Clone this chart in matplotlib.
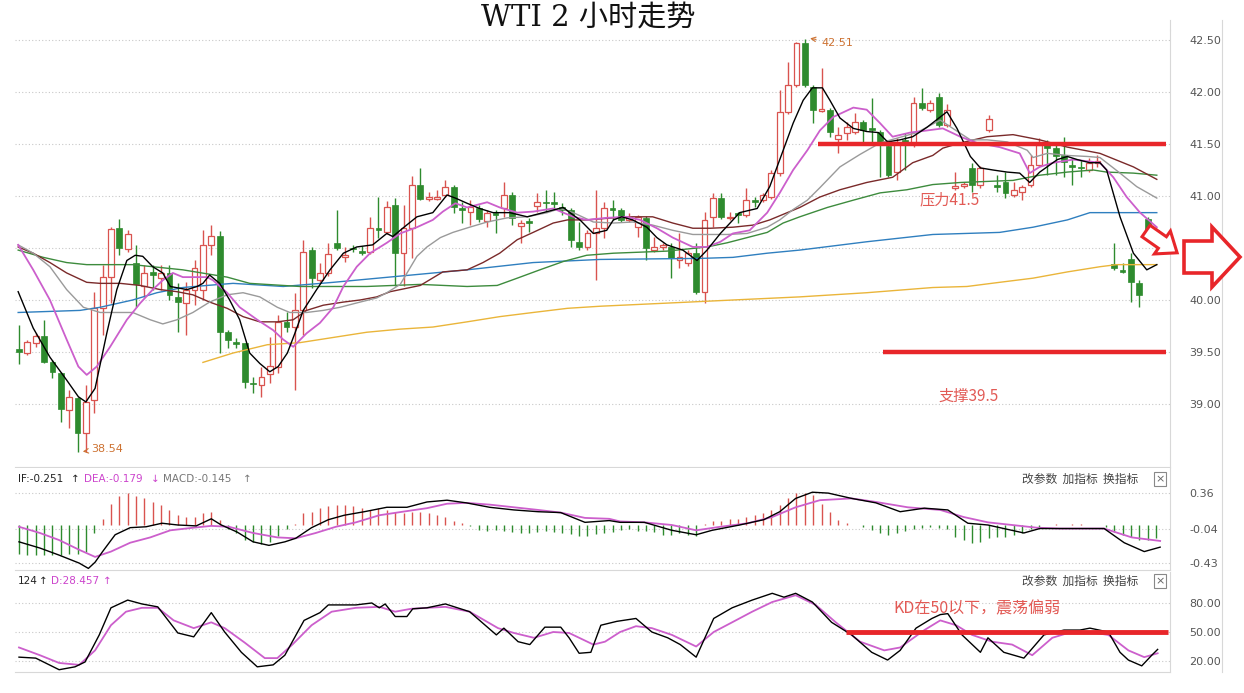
import numpy as np
import matplotlib
matplotlib.use("Agg")
import matplotlib.pyplot as plt
from matplotlib.patches import Polygon

W, H = 1244, 693
nan = np.nan

# ---- 2 hour candles (price) ----
opens = [39.53, 39.49, 39.59, 39.65, 39.40, 39.30, 38.94, 39.06, 38.72, 39.04,
         39.92, 40.22, 40.69, 40.49, 40.36, 40.13, 40.27, 40.21, 40.26, 40.03,
         39.97, 40.10, 40.10, 40.53, 40.62, 39.69, 39.60, 39.59, 39.20, 39.18,
         39.29, 39.36, 39.79, 39.74, 39.90, 40.48, 40.19, 40.26, 40.55, 40.41,
         40.50, 40.47, 40.46, 40.69, 40.65, 40.91, 40.45, 40.69, 41.11, 40.97,
         40.97, 41.01, 41.09, 40.88, 40.85, 40.88, 40.76, 40.84, 40.88, 41.01,
         40.71, 40.76, 40.90, 40.94, 40.94, 40.89, 40.87, 40.56, 40.51, 40.64,
         40.69, 40.88, 40.87, 40.77, 40.70, 40.79, 40.48, 40.51, 40.51, 40.38,
         40.36, 40.45, 40.08, 40.80, 40.98, 40.79, 40.83, 40.82, 40.96, 40.96,
         40.99, 41.22, 41.81, 42.07, 42.47, 42.05, 41.82, 41.83, 41.55, 41.61,
         41.62, 41.71, 41.65, 41.62, 41.48, 41.23, 41.54, 41.51, 41.89, 41.83,
         41.95, 41.68, 41.08, 41.10, 41.27, 41.11, 41.63, 41.11, 41.13, 41.01,
         41.04, 41.11, 41.30, 41.51, 41.46, 41.39, 41.30, 41.28, 41.25, 41.32,
         nan, 40.35, 40.29, 40.39, 40.16, 40.78, 40.67]
highs = [39.76, 39.62, 39.68, 39.81, 39.42, 39.31, 39.13, 39.07, 39.18, 40.08,
         40.34, 40.70, 40.78, 40.67, 40.53, 40.34, 40.34, 40.34, 40.34, 40.16,
         40.17, 40.38, 40.67, 40.72, 40.66, 39.71, 39.63, 39.59, 39.26, 39.36,
         39.64, 39.86, 39.88, 40.07, 40.58, 40.51, 40.36, 40.55, 40.87, 40.51,
         40.53, 40.52, 40.80, 40.99, 40.95, 40.98, 40.91, 41.19, 41.27, 41.04,
         41.06, 41.15, 41.11, 40.94, 40.96, 40.91, 40.87, 40.87, 41.13, 41.04,
         40.77, 40.79, 41.03, 41.06, 41.04, 40.93, 40.88, 40.75, 40.67, 41.06,
         40.94, 40.96, 40.88, 40.84, 40.82, 40.81, 40.61, 40.55, 40.55, 40.64,
         40.48, 40.55, 40.85, 41.03, 41.03, 40.85, 40.85, 41.08, 40.99, 41.03,
         41.25, 42.02, 42.29, 42.48, 42.51, 42.07, 42.23, 41.85, 41.66, 41.71,
         41.80, 41.73, 41.94, 41.63, 41.50, 41.56, 41.61, 41.95, 42.04, 41.92,
         41.99, 41.88, 41.23, 41.13, 41.32, 41.29, 41.78, 41.20, 41.23, 41.13,
         41.11, 41.39, 41.56, 41.54, 41.52, 41.57, 41.37, 41.35, 41.37, 41.39,
         nan, 40.55, 40.36, 40.45, 40.19, 40.80, 40.69]
lows = [39.38, 39.47, 39.55, 39.39, 39.25, 38.83, 38.77, 38.54, 38.54, 38.91,
        39.66, 39.97, 40.43, 40.46, 39.93, 40.03, 40.10, 40.10, 40.00, 39.69,
        39.66, 39.95, 40.00, 40.43, 39.49, 39.54, 39.54, 39.15, 39.11, 39.07,
        39.20, 39.30, 39.69, 39.13, 39.66, 40.12, 40.17, 40.23, 40.48, 40.37,
        40.46, 40.43, 40.44, 40.60, 40.63, 40.13, 40.13, 40.40, 40.96, 40.95,
        40.96, 40.99, 40.84, 40.74, 40.72, 40.75, 40.70, 40.64, 40.80, 40.72,
        40.55, 40.65, 40.85, 40.85, 40.87, 40.82, 40.51, 40.48, 40.48, 40.19,
        40.60, 40.77, 40.75, 40.75, 40.61, 40.38, 40.46, 40.48, 40.21, 40.31,
        40.33, 40.06, 39.97, 40.70, 40.78, 40.77, 40.74, 40.80, 40.89, 40.94,
        40.97, 41.19, 41.79, 42.05, 42.05, 41.70, 41.81, 41.57, 41.41, 41.54,
        41.60, 41.51, 41.51, 41.18, 41.18, 41.15, 41.25, 41.47, 41.83, 41.81,
        41.66, 41.66, 41.06, 41.08, 41.04, 41.08, 41.62, 41.04, 40.98, 40.99,
        40.96, 41.09, 41.28, 41.20, 41.20, 41.18, 41.11, 41.18, 41.23, 41.28,
        nan, 40.29, 40.26, 39.98, 39.93, 40.65, 40.56]
closes = [39.50, 39.60, 39.65, 39.40, 39.31, 38.95, 39.07, 38.72, 39.02, 39.92,
          40.22, 40.68, 40.50, 40.63, 40.15, 40.26, 40.24, 40.26, 40.05, 39.98,
          40.10, 40.31, 40.53, 40.62, 39.69, 39.62, 39.58, 39.21, 39.19, 39.26,
          39.37, 39.79, 39.74, 39.90, 40.46, 40.21, 40.26, 40.44, 40.50, 40.43,
          40.49, 40.45, 40.69, 40.67, 40.89, 40.45, 40.69, 41.11, 40.97, 40.99,
          40.99, 41.09, 40.89, 40.87, 40.89, 40.78, 40.84, 40.82, 41.01, 40.79,
          40.74, 40.74, 40.94, 40.93, 40.92, 40.87, 40.58, 40.51, 40.64, 40.69,
          40.88, 40.87, 40.77, 40.80, 40.80, 40.50, 40.51, 40.53, 40.40, 40.41,
          40.45, 40.08, 40.77, 40.98, 40.80, 40.80, 40.82, 40.96, 40.94, 41.01,
          41.22, 41.81, 42.07, 42.47, 42.07, 41.83, 41.83, 41.62, 41.59, 41.66,
          41.71, 41.63, 41.63, 41.51, 41.20, 41.51, 41.52, 41.89, 41.85, 41.89,
          41.68, 41.83, 41.10, 41.11, 41.11, 41.27, 41.74, 41.09, 41.03, 41.06,
          41.09, 41.30, 41.49, 41.46, 41.38, 41.33, 41.28, 41.27, 41.32, 41.33,
          nan, 40.31, 40.27, 40.17, 40.05, 40.67, 40.62]

# ---- moving averages (candle index, price) ----
ma5_x = [-0.1, 1.7, 3.7, 5.7, 7.1, 8.0, 9.1, 10.5, 11.7, 12.9, 13.9, 14.8, 16.0, 17.2, 18.1, 20.1, 21.3, 22.0, 22.8, 24.0,
         25.2, 26.4, 27.6, 28.8, 30.0, 31.0, 32.1, 33.0, 34.0, 35.6, 37.2, 38.8, 40.4, 42.3, 44.0, 44.7, 45.9, 47.6, 49.5, 51.2,
         52.2, 53.6, 55.1, 56.7, 58.7, 60.8, 62.7, 65.1, 65.9, 67.1, 68.7, 70.3, 71.1, 72.1, 73.4, 75.1, 76.3, 77.5, 79.4, 81.1,
         82.3, 83.9, 85.4, 86.2, 88.3, 89.8, 91.0, 92.6, 93.8, 94.9, 96.1, 97.0, 98.2, 99.8, 101.4, 102.8, 103.9, 105.4, 106.9, 108.6,
         110.2, 111.0, 112.2, 113.8, 115.0, 116.5, 118.2, 119.7, 120.9, 122.1, 124.2, 125.4, 126.6, 128.1, 129.3, 130.1, 131.7, 133.3, 134.9, 136.1]
ma5_y = [40.08, 39.73, 39.45, 39.23, 39.07, 39.02, 39.15, 39.68, 40.10, 40.38, 40.43, 40.42, 40.32, 40.26, 40.13, 40.10, 40.13, 40.16, 40.24, 40.16,
         40.00, 39.81, 39.49, 39.39, 39.31, 39.36, 39.49, 39.68, 39.90, 40.10, 40.29, 40.45, 40.51, 40.53, 40.64, 40.61, 40.69, 40.80, 40.84, 41.01,
         40.98, 40.93, 40.88, 40.84, 40.84, 40.80, 40.84, 40.89, 40.84, 40.77, 40.64, 40.67, 40.77, 40.80, 40.77, 40.70, 40.60, 40.53, 40.48, 40.38,
         40.48, 40.64, 40.77, 40.84, 40.88, 41.09, 41.35, 41.70, 41.92, 42.04, 42.04, 41.92, 41.75, 41.65, 41.62, 41.61, 41.52, 41.54, 41.57, 41.66,
         41.76, 41.81, 41.65, 41.38, 41.27, 41.25, 41.23, 41.22, 41.13, 41.23, 41.35, 41.38, 41.35, 41.32, 41.32, 41.25, 40.80, 40.45, 40.29, 40.34]

ma10_x = [-0.1, 1.7, 3.7, 5.7, 7.1, 8.1, 9.3, 10.9, 12.9, 14.5, 16.0, 17.2, 18.4, 19.6, 21.3, 22.5, 23.2, 24.9, 26.4, 28.5,
          30.4, 31.6, 32.8, 34.4, 36.0, 37.6, 38.8, 40.4, 42.0, 44.0, 45.6, 47.6, 49.5, 50.7, 52.2, 53.6, 56.0, 57.5, 59.6, 61.5,
          63.9, 66.3, 67.9, 70.3, 72.7, 74.3, 76.3, 78.2, 80.6, 82.3, 83.9, 85.4, 87.4, 89.5, 91.0, 92.6, 94.3, 95.8, 97.4, 99.8,
          101.4, 103.0, 104.5, 106.6, 108.6, 110.5, 112.6, 114.6, 117.3, 119.7, 120.9, 122.1, 123.7, 126.1, 129.3, 130.9, 132.5, 134.1, 136.1]
ma10_y = [40.53, 40.29, 40.00, 39.62, 39.36, 39.28, 39.36, 39.55, 39.81, 39.97, 40.10, 40.19, 40.26, 40.22, 40.22, 40.22, 40.19, 40.07, 39.93, 39.81,
          39.71, 39.62, 39.55, 39.68, 39.78, 39.93, 40.13, 40.32, 40.45, 40.55, 40.64, 40.70, 40.77, 40.85, 40.93, 40.89, 40.94, 40.89, 40.84, 40.85,
          40.88, 40.80, 40.77, 40.79, 40.80, 40.77, 40.69, 40.60, 40.51, 40.51, 40.56, 40.64, 40.67, 40.84, 41.03, 41.25, 41.44, 41.63, 41.76, 41.85,
          41.83, 41.70, 41.57, 41.61, 41.63, 41.65, 41.57, 41.51, 41.47, 41.41, 41.22, 41.28, 41.32, 41.35, 41.32, 41.18, 40.99, 40.84, 40.70]

ma20_x = [-0.1, 1.7, 3.7, 5.7, 7.7, 9.7, 11.7, 13.6, 15.7, 17.2, 18.9, 20.8, 22.8, 24.9, 26.8, 28.8, 30.9, 32.4, 34.4, 36.4,
          38.4, 40.8, 42.8, 44.0, 45.6, 47.6, 48.8, 50.4, 51.9, 53.9, 56.0, 58.4, 60.8, 63.2, 64.7, 66.3, 68.7, 71.1, 73.4, 75.8,
          78.2, 80.6, 82.3, 84.7, 87.1, 89.5, 91.0, 92.6, 94.3, 95.8, 98.2, 100.6, 103.0, 107.4, 110.2, 111.7, 113.8, 115.8, 118.2, 120.6,
          121.3, 123.0, 125.4, 127.8, 129.3, 131.7, 133.7, 136.1]
ma20_y = [40.53, 40.45, 40.32, 40.10, 39.93, 39.88, 39.88, 39.88, 39.81, 39.77, 39.81, 39.88, 39.98, 40.05, 40.07, 40.03, 39.93, 39.88, 39.88, 39.90,
          39.93, 39.98, 40.02, 40.07, 40.15, 40.42, 40.51, 40.60, 40.65, 40.70, 40.75, 40.79, 40.80, 40.84, 40.88, 40.84, 40.75, 40.74, 40.75, 40.72,
          40.67, 40.63, 40.63, 40.63, 40.64, 40.70, 40.77, 40.87, 40.96, 41.08, 41.28, 41.40, 41.51, 41.61, 41.73, 41.65, 41.54, 41.54, 41.52, 41.44,
          41.37, 41.41, 41.39, 41.38, 41.37, 41.22, 41.09, 40.98]

ma30_x = [-0.1, 1.7, 3.7, 5.7, 8.1, 9.7, 12.1, 14.5, 16.9, 18.9, 20.8, 22.8, 24.9, 26.8, 28.8, 30.9, 32.8, 34.4, 36.4, 38.8,
          40.8, 42.8, 44.4, 45.6, 48.0, 50.7, 53.6, 55.5, 57.5, 59.6, 61.5, 63.9, 65.6, 67.9, 71.1, 73.4, 75.8, 78.2, 80.6, 82.7,
          85.4, 87.8, 89.8, 91.9, 93.4, 95.8, 98.2, 101.4, 104.5, 106.9, 109.3, 110.5, 112.6, 115.8, 118.9, 122.1, 125.4, 129.3, 133.3, 136.1]
ma30_y = [40.51, 40.45, 40.36, 40.26, 40.17, 40.16, 40.16, 40.14, 40.10, 40.08, 40.05, 39.98, 39.92, 39.84, 39.79, 39.79, 39.81, 39.90, 39.95, 39.98,
          40.00, 40.03, 40.08, 40.10, 40.14, 40.27, 40.29, 40.36, 40.45, 40.58, 40.65, 40.74, 40.77, 40.77, 40.79, 40.80, 40.80, 40.74, 40.69, 40.69,
          40.70, 40.72, 40.77, 40.84, 40.89, 40.99, 41.06, 41.13, 41.18, 41.32, 41.39, 41.46, 41.51, 41.57, 41.59, 41.54, 41.47, 41.41, 41.28, 41.16]

ma60_x = [-0.1, 2.9, 5.7, 8.1, 13.6, 19.6, 24.9, 27.6, 33.6, 41.6, 48.0, 53.6, 57.2, 59.6, 62.3, 65.1, 67.9, 71.1, 77.5, 82.3,
          84.7, 87.1, 89.5, 91.4, 93.4, 96.7, 99.8, 103.0, 106.2, 109.3, 112.6, 118.9, 122.1, 125.4, 128.5, 130.1, 133.3, 136.1]
ma60_y = [40.48, 40.41, 40.36, 40.34, 40.34, 40.29, 40.22, 40.16, 40.13, 40.13, 40.15, 40.13, 40.14, 40.21, 40.29, 40.37, 40.43, 40.45, 40.47, 40.51,
          40.55, 40.60, 40.65, 40.74, 40.80, 40.89, 40.96, 41.03, 41.06, 41.11, 41.13, 41.15, 41.20, 41.23, 41.25, 41.23, 41.22, 41.20]

ma120_x = [-0.1, 7.3, 9.7, 13.6, 16.5, 19.6, 22.5, 25.6, 31.6, 37.6, 45.6, 53.6, 61.5, 69.5, 81.5, 85.4, 89.5, 93.4, 101.4, 109.3,
           117.3, 121.3, 125.4, 128.1, 136.1]
ma120_y = [39.88, 39.90, 39.93, 40.00, 40.07, 40.12, 40.14, 40.16, 40.13, 40.17, 40.23, 40.29, 40.36, 40.39, 40.40, 40.41, 40.45, 40.48, 40.56, 40.63,
           40.65, 40.70, 40.77, 40.84, 40.84]

ma250_x = [22.0, 25.6, 29.7, 33.6, 37.6, 41.6, 45.6, 49.5, 53.6, 57.5, 61.5, 65.6, 69.5, 77.5, 85.4, 93.4, 101.4, 109.3, 113.4, 117.3,
           121.3, 125.4, 129.3, 131.3, 136.1]
ma250_y = [39.40, 39.49, 39.57, 39.59, 39.64, 39.69, 39.72, 39.74, 39.79, 39.84, 39.88, 39.92, 39.94, 39.97, 40.00, 40.03, 40.07, 40.12, 40.13, 40.17,
           40.21, 40.27, 40.32, 40.34, 40.34]

# ---- MACD ----
dif_x = [0.0, 2.5, 4.8, 7.2, 8.3, 9.1, 10.0, 11.5, 13.3, 15.2, 17.1, 19.0, 21.2, 23.0, 24.2, 26.1, 28.0, 29.9, 31.8, 33.1,
         35.0, 37.0, 38.9, 41.3, 44.0, 46.4, 48.8, 51.2, 53.5, 56.3, 59.2, 62.1, 64.8, 67.7, 70.6, 71.9, 74.8, 78.1, 81.0, 82.9,
         86.2, 89.1, 91.0, 92.9, 94.9, 96.8, 99.6, 102.5, 105.4, 108.3, 111.1, 113.5, 115.9, 117.8, 120.2, 122.1, 126.0, 129.8, 132.2, 134.6, 136.5]
dif_y = [-0.19, -0.26, -0.34, -0.43, -0.49, -0.42, -0.30, -0.11, -0.03, -0.02, 0.02, 0.0, -0.01, 0.07, 0.0, -0.08, -0.19, -0.23, -0.19, -0.15,
         -0.03, 0.06, 0.11, 0.15, 0.20, 0.20, 0.26, 0.28, 0.25, 0.20, 0.17, 0.15, 0.14, 0.03, 0.05, 0.03, 0.03, -0.06, -0.11, -0.06,
         0.0, 0.06, 0.15, 0.30, 0.37, 0.36, 0.30, 0.25, 0.15, 0.19, 0.17, 0.02, 0.0, -0.04, -0.09, -0.04, -0.04, -0.04, -0.20, -0.30, -0.25]
dea_x = [0.0, 2.5, 4.8, 7.2, 9.1, 11.0, 13.3, 15.7, 18.1, 20.9, 23.0, 25.1, 28.0, 30.9, 33.1, 35.5, 37.9, 40.3, 43.1, 45.9,
         48.8, 51.2, 53.5, 56.3, 59.2, 62.1, 64.8, 67.7, 70.6, 71.9, 74.8, 78.1, 81.0, 83.9, 87.2, 90.1, 92.9, 95.8, 99.6, 102.5,
         106.3, 110.2, 113.0, 115.9, 118.8, 121.7, 124.5, 129.8, 133.1, 136.5]
dea_y = [-0.02, -0.09, -0.17, -0.28, -0.36, -0.30, -0.20, -0.14, -0.06, -0.03, -0.01, -0.02, -0.09, -0.14, -0.15, -0.09, -0.02, 0.03, 0.11, 0.15,
         0.19, 0.24, 0.25, 0.23, 0.20, 0.17, 0.14, 0.08, 0.07, 0.04, 0.03, 0.0, -0.06, -0.02, 0.02, 0.09, 0.20, 0.28, 0.30, 0.26,
         0.20, 0.17, 0.09, 0.03, 0.0, -0.03, -0.04, -0.04, -0.14, -0.18]
macd_bar = [-0.33, -0.34, -0.34, -0.34, -0.34, -0.34, -0.33, -0.33, -0.31, -0.09,
            0.07, 0.24, 0.33, 0.36, 0.33, 0.30, 0.26, 0.23, 0.17, 0.11,
            0.09, 0.09, 0.13, 0.15, 0.06, -0.04, -0.09, -0.17, -0.19, -0.21,
            -0.19, -0.12, -0.05, 0.01, 0.13, 0.15, 0.19, 0.21, 0.23, 0.23,
            0.21, 0.19, 0.17, 0.19, 0.17, 0.15, 0.13, 0.15, 0.15, 0.13,
            0.11, 0.09, 0.04, 0.02, -0.01, -0.06, -0.07, -0.06, -0.07, -0.08,
            -0.09, -0.09, -0.08, -0.07, -0.08, -0.09, -0.10, -0.12, -0.12, -0.10,
            -0.09, -0.08, -0.06, -0.05, -0.07, -0.07, -0.08, -0.11, -0.11, -0.09,
            -0.11, -0.12, 0.01, 0.04, 0.05, 0.07, 0.07, 0.09, 0.11, 0.13,
            0.17, 0.23, 0.30, 0.36, 0.36, 0.34, 0.24, 0.15, 0.06, 0.02,
            0.0, -0.02, -0.06, -0.09, -0.11, -0.09, -0.07, -0.04, -0.03, -0.02,
            -0.03, -0.05, -0.13, -0.17, -0.20, -0.19, -0.15, -0.13, -0.13, -0.11,
            -0.09, -0.05, -0.03, 0.0, 0.01, 0.0, 0.01, 0.01, 0.0, 0.0,
            -0.02, -0.08, -0.11, -0.14, -0.17, -0.17, -0.145]

# ---- KD ----
k_x = [0.0, 2.0, 4.8, 6.7, 7.9, 9.6, 11.0, 13.0, 14.7, 16.6, 19.0, 20.9, 23.0, 24.6, 26.6, 28.5, 30.4, 31.8, 34.1, 36.0,
       37.0, 40.3, 42.2, 43.1, 43.8, 45.0, 46.4, 47.1, 48.8, 51.0, 53.9, 57.1, 58.0, 59.7, 61.1, 62.9, 64.8, 65.8, 67.0, 68.4,
       69.6, 71.5, 73.8, 75.7, 77.6, 79.1, 81.0, 83.1, 85.3, 87.7, 90.1, 91.5, 92.9, 94.9, 97.2, 99.6, 102.0, 103.9, 105.4, 107.3,
       109.2, 110.2, 111.1, 112.8, 115.0, 115.9, 117.8, 120.2, 122.6, 125.0, 126.9, 128.1, 130.3, 131.7, 132.7, 134.3, 135.5, 136.2]
k_y = [24, 23, 11, 14, 19, 47, 75, 83, 79, 76, 49, 45, 70, 50, 29, 14, 16, 26, 62, 70,
       78, 78, 80, 75, 79, 66, 66, 74, 75, 79, 71, 47, 54, 40, 37, 55, 55, 44, 28, 29,
       57, 61, 64, 50, 44, 37, 24, 64, 75, 83, 90, 86, 90, 81, 60, 47, 29, 21, 31, 54,
       64, 68, 69, 47, 29, 44, 29, 23, 47, 52, 52, 54, 50, 29, 21, 15, 26, 32]
d_x = [0.0, 2.5, 4.8, 7.2, 9.1, 11.0, 12.8, 14.7, 16.6, 18.5, 20.9, 23.0, 24.6, 27.0, 29.4, 30.9, 32.7, 35.0, 37.4, 40.3,
       43.1, 45.0, 46.9, 48.8, 51.0, 53.9, 57.3, 59.2, 61.6, 63.9, 65.8, 68.7, 70.1, 71.9, 73.8, 75.7, 78.1, 81.0, 83.1, 85.3,
       87.7, 90.1, 92.9, 95.3, 97.7, 100.6, 103.5, 105.4, 108.3, 110.2, 112.1, 114.0, 116.4, 118.8, 121.2, 123.6, 125.5, 127.9, 130.3, 132.7,
       134.6, 136.2]
d_y = [34, 26, 18, 16, 31, 57, 71, 75, 75, 62, 54, 60, 54, 39, 23, 23, 37, 57, 71, 75,
       76, 71, 74, 75, 76, 71, 54, 49, 44, 50, 49, 37, 40, 50, 56, 54, 47, 35, 50, 60,
       71, 81, 88, 78, 60, 40, 31, 34, 52, 62, 57, 47, 40, 37, 26, 44, 49, 50, 47, 31,
       24, 28]

price_ticks = [39.0, 39.5, 40.0, 40.5, 41.0, 41.5, 42.0, 42.5]
macd_ticks = [0.36, -0.04, -0.43]
kd_ticks = [20, 50, 80]
resistance = 41.5
support = 39.5
kd_level = 50

RED = '#d9534f'
GREEN = '#2e8b2e'
LINE_RED = '#e8262a'
GRID = '#c8c8c8'
CJK = ['Noto Sans CJK SC', 'DejaVu Sans']


def fx(px):
    return px / W


def fy(py):
    return 1 - py / H


def ix(px):
    # pixel column -> candle index (first candle at x=19, spacing 8.36 px)
    return (px - 19) / 8.36


def style_panel(a, ticks, labels):
    a.set_xlim(ix(15), ix(1170))
    for t in ticks:
        a.axhline(t, color=GRID, lw=0.8, ls=(0, (1, 2)), zorder=0)
    a.yaxis.tick_right()
    a.set_yticks(ticks)
    a.set_yticklabels(labels)
    a.set_xticks([])
    a.tick_params(axis='y', length=0, pad=14, labelsize=8, labelcolor='#555555')
    for s in ['top', 'left']:
        a.spines[s].set_visible(False)
    for s in ['bottom', 'right']:
        a.spines[s].set_color('#d8d8d8')
        a.spines[s].set_linewidth(0.8)


fig = plt.figure(figsize=(W / 100, H / 100), dpi=100)
fig.patch.set_facecolor('white')

# ---------------- main price panel ----------------
ax = fig.add_axes([fx(15), fy(467), fx(1170) - fx(15), fy(30) - fy(467)])
ax.set_ylim(40 - 167 / 104, 40 + 270 / 104)
style_panel(ax, price_ticks, ['%.2f' % t for t in price_ticks])

o = np.array(opens)
h = np.array(highs)
l = np.array(lows)
c = np.array(closes)
idx = np.arange(len(c))
ok = ~np.isnan(c)
up = ok & (c >= o)
dn = ok & (c < o)
bottom = np.minimum(o, c)
height = np.maximum(np.abs(c - o), 0.012)

ax.vlines(idx[up], l[up], h[up], color=RED, lw=1, zorder=2)
ax.vlines(idx[dn], l[dn], h[dn], color=GREEN, lw=1, zorder=2)
ax.bar(idx[up], height[up], bottom=bottom[up], width=0.7, facecolor='white',
       edgecolor=RED, linewidth=0.9, zorder=3)
ax.bar(idx[dn], height[dn], bottom=bottom[dn], width=0.7, facecolor=GREEN,
       edgecolor=GREEN, linewidth=0.5, zorder=3)

ax.plot(ma250_x, ma250_y, color='#eab53a', lw=1, zorder=4)
ax.plot(ma120_x, ma120_y, color='#2f7fbf', lw=1, zorder=4)
ax.plot(ma60_x, ma60_y, color='#3d8b3d', lw=1, zorder=4)
ax.plot(ma30_x, ma30_y, color='#7a2a2a', lw=1, zorder=4)
ax.plot(ma20_x, ma20_y, color='#9a9a9a', lw=1, zorder=4)
ax.plot(ma10_x, ma10_y, color='#cc5fcc', lw=1.3, zorder=4)
ax.plot(ma5_x, ma5_y, color='black', lw=1, zorder=5)

# high / low markers
hi_i = int(np.nanargmax(h))
lo_i = int(np.nanargmin(l))
ax.annotate('%.2f' % h[hi_i], xy=(hi_i + 0.3, h[hi_i] + 0.01), xytext=(hi_i + 2.0, h[hi_i] - 0.04),
            fontsize=8, color='#cd7232', va='center',
            arrowprops=dict(arrowstyle='->', color='#cd7232', lw=0.8))
ax.annotate('%.2f' % l[lo_i], xy=(lo_i + 0.3, l[lo_i]), xytext=(lo_i + 1.6, l[lo_i] + 0.03),
            fontsize=8, color='#cd7232', va='center',
            arrowprops=dict(arrowstyle='->', color='#cd7232', lw=0.8))

# resistance / support
ax.hlines(resistance, ix(818), ix(1166), color=LINE_RED, lw=3.2, zorder=6)
ax.hlines(support, ix(883), ix(1166), color=LINE_RED, lw=3.2, zorder=6)
ax.text(ix(950), 40 + (300 - 200) / 104, '压力41.5', family=CJK, fontsize=11,
        color='#e25a55', ha='center', va='center', zorder=7)
ax.text(ix(969), 40 + (300 - 396) / 104, '支撑39.5', family=CJK, fontsize=11,
        color='#e25a55', ha='center', va='center', zorder=7)

# ---------------- MACD panel ----------------
axm = fig.add_axes([fx(15), fy(570), fx(1170) - fx(15), fy(468) - fy(570)])
axm.set_ylim((525 - 570) / 88.6, (525 - 468) / 88.6)
style_panel(axm, macd_ticks, ['0.36', '-0.04', '-0.43'])
mb = np.array(macd_bar)
bar_cols = [RED if v > 0 else GREEN for v in mb]
axm.vlines(np.arange(len(mb)), 0, mb, colors=bar_cols, lw=1, zorder=2)
axm.plot(dea_x, dea_y, color='#cc5fcc', lw=1.3, zorder=3)
axm.plot(dif_x, dif_y, color='black', lw=1, zorder=4)

# ---------------- KD panel ----------------
axk = fig.add_axes([fx(15), fy(672), fx(1170) - fx(15), fy(572) - fy(672)])
axk.set_ylim(50 - 40 * 1.034, 50 + 60 * 1.034)
style_panel(axk, kd_ticks, ['20.00', '50.00', '80.00'])
axk.plot(d_x, d_y, color='#cc5fcc', lw=1.3, zorder=3)
axk.plot(k_x, k_y, color='black', lw=1, zorder=4)
axk.hlines(kd_level, ix(846), ix(1168), color=LINE_RED, lw=3.5, zorder=5)
axk.text(ix(977), 50 + (632 - 609) * 1.034, 'KD在50以下，震荡偏弱', family=CJK,
         fontsize=11.5, color='#e25a55', ha='center', va='center', zorder=6)

# ---------------- headers ----------------
fig.text(fx(588), fy(18), 'WTI 2 小时走势', family=['DejaVu Serif', 'Noto Sans CJK SC'],
         fontsize=21, ha='center', va='center', color='#111111')

hdr = [(18, 'IF:-0.251', '#222222'), (71, '↑', '#222222'), (84, 'DEA:-0.179', '#cc44cc'),
       (151, '↓', '#cc44cc'), (163, 'MACD:-0.145', '#777777'), (243, '↑', '#777777')]
for x0, s, col in hdr:
    fig.text(fx(x0), fy(479), s, fontsize=7.5, color=col, va='center', family='DejaVu Sans')
hdr2 = [(18, '124', '#222222'), (39, '↑', '#222222'), (51, 'D:28.457', '#cc44cc'), (103, '↑', '#cc44cc')]
for x0, s, col in hdr2:
    fig.text(fx(x0), fy(581), s, fontsize=7.5, color=col, va='center', family='DejaVu Sans')

for yy in (479, 581):
    fig.text(fx(1022), fy(yy), '改参数  加指标  换指标', family=CJK, fontsize=8.5,
             color='#444444', va='center')
    fig.text(fx(1160), fy(yy), '×', fontsize=8, color='#666666', va='center', ha='center',
             bbox=dict(boxstyle='square,pad=0.15', fc='white', ec='#888888', lw=0.8))

# outer right frame line
fig.add_artist(plt.Line2D([fx(1222), fx(1222)], [fy(20), fy(672)], color='#d8d8d8', lw=0.8))
fig.add_artist(plt.Line2D([fx(1170), fx(1170)], [fy(20), fy(30)], color='#d8d8d8', lw=0.8))


# ---------------- hollow block arrows ----------------
def block_arrow(x0, y0, L, L1, h1, h2, ang, lw):
    a = np.deg2rad(ang)
    pts = [(0, -h1), (L1, -h1), (L1, -h2), (L, 0), (L1, h2), (L1, h1), (0, h1)]
    out = []
    for px, py in pts:
        rx = x0 + px * np.cos(a) - py * np.sin(a)
        ry = y0 + px * np.sin(a) + py * np.cos(a)
        out.append((fx(rx), fy(ry)))
    fig.add_artist(Polygon(out, closed=True, fc='white', ec=LINE_RED, lw=lw,
                           transform=fig.transFigure, zorder=10))


block_arrow(1184, 257, 56, 28, 16, 30, 0, 2.6)
block_arrow(1146, 231, 38, 20, 7, 14, 35, 2.2)

fig.savefig('out.png', dpi=100, facecolor='white')
